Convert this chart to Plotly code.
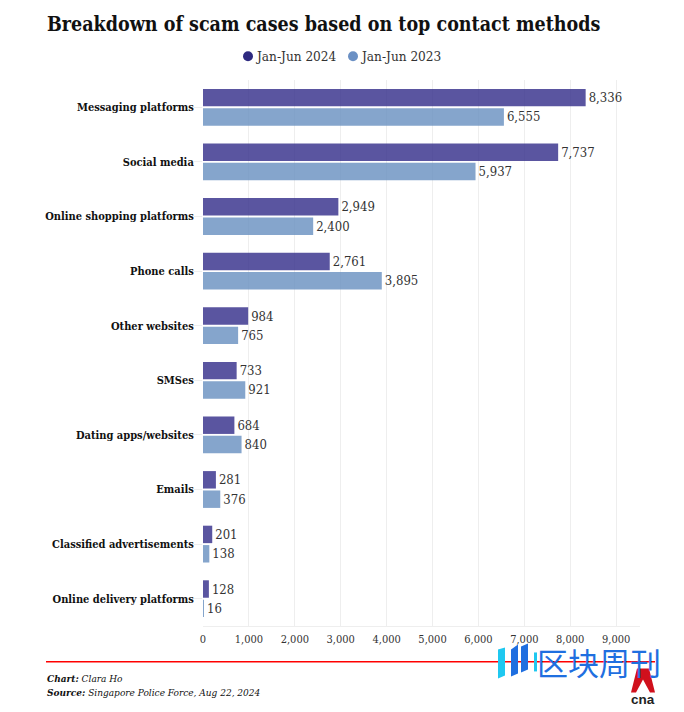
"""CNA scam cases chart"""

import plotly.graph_objects as go

CATEGORIES = [
    "Messaging platforms",
    "Social media",
    "Online shopping platforms",
    "Phone calls",
    "Other websites",
    "SMSes",
    "Dating apps/websites",
    "Emails",
    "Classified advertisements",
    "Online delivery platforms",
]
CASES_2024 = [8336, 7737, 2949, 2761, 984, 733, 684, 281, 201, 128]
CASES_2023 = [6555, 5937, 2400, 3895, 765, 921, 840, 376, 138, 16]
TICKS = [0, 1000, 2000, 3000, 4000, 5000, 6000, 7000, 8000, 9000]

SERIF = "DejaVu Serif Condensed, DejaVu Serif, serif"
# ページのbody marginが8pxあるので、その分だけ引いた座標で配置する
PAGE_PAD = 8
W, H = 684 - PAGE_PAD, 712 - PAGE_PAD
LEFT, RIGHT, TOP, BOTTOM = 203, 640, 79.7, 626.5
PLOT_W, PLOT_H = RIGHT - LEFT, BOTTOM - TOP


def px_x(x):
    return (x - LEFT) / PLOT_W


def px_y(y):
    return (BOTTOM - y) / PLOT_H


fig = go.Figure()

for name, values, color in [
    ("Jan-Jun 2024", CASES_2024, "#312b88"),
    ("Jan-Jun 2023", CASES_2023, "#678ebf"),
]:
    fig.add_trace(go.Bar(
        y=CATEGORIES,
        x=values,
        name=name,
        orientation="h",
        marker=dict(color=color, opacity=0.8, line=dict(width=0)),
        text=[f"{v:,}" for v in values],
        textposition="outside",
        cliponaxis=False,
        textfont=dict(size=13, color="#333333", family=SERIF),
        showlegend=False,
    ))


def note(text, x, y, size, color="#111111", family=SERIF, anchor="left"):
    fig.add_annotation(text=text, xref="paper", yref="paper",
                       x=px_x(x), y=px_y(y),
                       xanchor=anchor, yanchor="middle", showarrow=False,
                       font=dict(size=size, color=color, family=family))


def polygon(points, color):
    path = " ".join(
        ("M" if i == 0 else "L") + f" {px_x(x)} {px_y(y)}" for i, (x, y) in enumerate(points)
    ) + " Z"
    fig.add_shape(type="path", xref="paper", yref="paper", path=path,
                  fillcolor=color, line=dict(width=0))


# フッターの赤線
polygon([(46, 661.5), (655, 661.5), (655, 663), (46, 663)], "#ff0000")

note("<b>Breakdown of scam cases based on top contact methods</b>", 45, 24, 19.5)
note("<b><i>Chart:</i></b><i> Clara Ho</i>", 45, 679, 10)
note("<b><i>Source:</i></b><i> Singapore Police Force, Aug 22, 2024</i>", 45, 693, 10)

# 凡例
for x, label, color in [(248, "Jan-Jun 2024", "#2e2a80"), (353, "Jan-Jun 2023", "#6b90c4")]:
    fig.add_shape(type="circle", xref="paper", yref="paper",
                  x0=px_x(x - 5), x1=px_x(x + 5), y0=px_y(61), y1=px_y(51),
                  fillcolor=color, line=dict(width=0))
    note(label, x + 5, 56, 13.5, "#333333")

# 透かしとロゴ
polygon([(498, 650), (505, 648), (505, 676), (498, 679)], "#1fc8f0")
polygon([(511, 650), (518, 645), (518, 674), (511, 677)], "#1f6fe0")
polygon([(521, 647), (528, 644), (528, 670), (521, 673)], "#1f6fe0")
polygon([(534, 653), (537, 653), (537, 672), (534, 672)], "#1fc8f0")
note("区块周刊", 535, 662, 31, "#1f6fe0", "Noto Sans CJK SC")
polygon([(637, 669), (649, 669), (655, 693), (650, 693), (643, 680), (636, 693), (631, 693)], "#d0101c")
note("<b>cna</b>", 643, 700, 13.5, "#222222", "Liberation Sans", "center")

fig.update_layout(
    width=W,
    height=H,
    margin=dict(l=LEFT - PAGE_PAD, r=W + PAGE_PAD - RIGHT, t=TOP - PAGE_PAD,
                b=H + PAGE_PAD - BOTTOM, autoexpand=False),
    paper_bgcolor="white",
    plot_bgcolor="white",
    barmode="group",
    bargap=0.29,
    bargroupgap=0.1,
    showlegend=False,
    xaxis=dict(range=[0, 9520], tickvals=TICKS, tickformat=",",
               gridcolor="#eeeeee", gridwidth=1, showline=True, linecolor="#eeeeee",
               zeroline=False, tickfont=dict(size=11, color="#333333", family=SERIF),
               ticks="", ticklabelstandoff=3, fixedrange=True),
    yaxis=dict(autorange="reversed", showgrid=False, showline=False, zeroline=False,
               ticks="outside", ticklen=8, tickcolor="#eeeeee",
               tickfont=dict(size=11, color="#111111", family=SERIF),
               ticklabelstandoff=-2, fixedrange=True),
)
fig.update_yaxes(ticktext=[f"<b>{c}</b>" for c in CATEGORIES], tickvals=CATEGORIES)

fig.write_html("out.html")
